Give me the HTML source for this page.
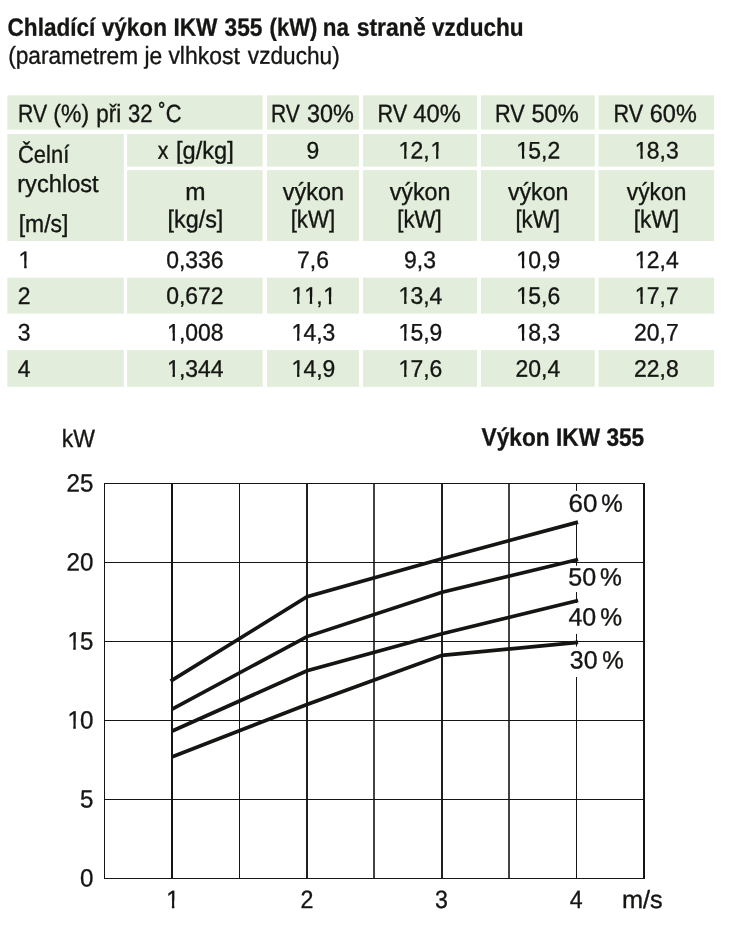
<!DOCTYPE html>
<html lang="cs">
<head>
<meta charset="utf-8">
<title>Chladící výkon IKW 355</title>
<style>
html,body{margin:0;padding:0;background:#fff}
body{width:729px;height:939px;position:relative;overflow:hidden;font-family:"Liberation Sans", sans-serif;color:#151513}
.page{position:absolute;left:0;top:0;width:729px;height:939px;overflow:hidden;background:#fff}
.bg{position:absolute;left:0;top:0}
.w{margin:0;padding:0;font:inherit}
.t{position:absolute;left:0;top:0;margin:0;padding:0;white-space:pre;line-height:1;font-weight:normal;transform-origin:0 0;color:#151513;-webkit-text-stroke:0.35px #151513;text-rendering:geometricPrecision}
.t.b{font-weight:bold;-webkit-text-stroke:0.3px #151513}
.t.n{font-kerning:none}
.t i{font-style:normal;display:inline-block;position:relative;left:.035em;clip-path:polygon(-1em -1em,2em -1em,2em var(--f),0.3478em var(--f),0.3478em 2em,0.2435em 2em,0.2435em var(--f),-1em var(--f))}
</style>
</head>
<body>
<div class="page">
<div class="tbl">
<svg class="bg" width="729" height="400" viewBox="0 0 729 400"><g fill="#e2eedb">
<rect x="7.3" y="95.3" width="255.4" height="34.3"/>
<rect x="267.0" y="95.3" width="91.9" height="34.3"/>
<rect x="363.1" y="95.3" width="113.9" height="34.3"/>
<rect x="481.0" y="95.3" width="113.8" height="34.3"/>
<rect x="598.5" y="95.3" width="115.7" height="34.3"/>
<rect x="7.3" y="134.0" width="116.5" height="107.0"/>
<rect x="127.1" y="134.0" width="135.6" height="32.6"/>
<rect x="127.1" y="170.1" width="135.6" height="70.9"/>
<rect x="267.0" y="134.0" width="91.9" height="32.6"/>
<rect x="267.0" y="170.1" width="91.9" height="70.9"/>
<rect x="363.1" y="134.0" width="113.9" height="32.6"/>
<rect x="363.1" y="170.1" width="113.9" height="70.9"/>
<rect x="481.0" y="134.0" width="113.8" height="32.6"/>
<rect x="481.0" y="170.1" width="113.8" height="70.9"/>
<rect x="598.5" y="134.0" width="115.7" height="32.6"/>
<rect x="598.5" y="170.1" width="115.7" height="70.9"/>
<rect x="7.3" y="277.7" width="116.5" height="36.0"/>
<rect x="7.3" y="350.1" width="116.5" height="36.7"/>
<rect x="127.1" y="277.7" width="135.6" height="36.0"/>
<rect x="127.1" y="350.1" width="135.6" height="36.7"/>
<rect x="267.0" y="277.7" width="91.9" height="36.0"/>
<rect x="267.0" y="350.1" width="91.9" height="36.7"/>
<rect x="363.1" y="277.7" width="113.9" height="36.0"/>
<rect x="363.1" y="350.1" width="113.9" height="36.7"/>
<rect x="481.0" y="277.7" width="113.8" height="36.0"/>
<rect x="481.0" y="350.1" width="113.8" height="36.7"/>
<rect x="598.5" y="277.7" width="115.7" height="36.0"/>
<rect x="598.5" y="350.1" width="115.7" height="36.7"/>
</g></svg>
<h1 class="w"><span class="t b" style="font-size:25px;transform:matrix(0.9025,0.001,0,1,7.56,15.74)">Chladící</span> <span class="t b" style="font-size:25px;transform:matrix(0.9025,0.001,0,1,101.70,15.75)">výkon</span> <span class="t b" style="font-size:25px;transform:matrix(0.9058,0.001,0,1,173.44,15.76)">IKW</span> <span class="t b" style="font-size:25px;transform:matrix(0.9092,0.001,0,1,224.55,15.76)">355</span> <span class="t b" style="font-size:25px;transform:matrix(0.8788,0.001,0,1,269.62,15.76)">(kW)</span> <span class="t b" style="font-size:25px;transform:matrix(0.8964,0.001,0,1,322.86,15.77)">na</span> <span class="t b" style="font-size:25px;transform:matrix(0.9204,0.001,0,1,356.66,15.75)">straně</span> <span class="t b" style="font-size:25px;transform:matrix(0.9040,0.001,0,1,432.00,15.74)">vzduchu</span></h1>
<p class="w"><span class="t" style="font-size:24.5px;transform:matrix(0.9265,0.001,0,1,8.14,44.82)">(parametrem</span> <span class="t" style="font-size:24.5px;transform:matrix(0.9289,0.001,0,1,144.40,44.87)">je</span> <span class="t" style="font-size:24.5px;transform:matrix(0.9364,0.001,0,1,168.40,44.85)">vlhkost</span> <span class="t" style="font-size:24.5px;transform:matrix(0.9240,0.001,0,1,247.85,44.84)">vzduchu)</span></p>
<span class="w"><span class="t" style="font-size:25px;transform:matrix(0.8496,0.001,0,1,18.00,101.97)">RV</span> <span class="t" style="font-size:25px;transform:matrix(0.9194,0.001,0,1,53.37,101.96)">(%)</span> <span class="t" style="font-size:25px;transform:matrix(0.8990,0.001,0,1,96.15,101.97)">při</span> <span class="t" style="font-size:25px;transform:matrix(0.8827,0.001,0,1,127.99,101.97)">32</span> <span class="t" style="font-size:25px;transform:matrix(0.8760,0.001,0,1,158.56,101.97)">˚C</span></span>
<span class="w"><span class="t" style="font-size:25px;transform:matrix(0.8419,0.001,0,1,271.02,101.97)">RV</span> <span class="t" style="font-size:25px;transform:matrix(0.9371,0.001,0,1,307.05,101.96)">30%</span></span>
<span class="w"><span class="t" style="font-size:25px;transform:matrix(0.8651,0.001,0,1,377.47,101.97)">RV</span> <span class="t" style="font-size:25px;transform:matrix(0.9497,0.001,0,1,413.28,101.96)">40%</span></span>
<span class="w"><span class="t" style="font-size:25px;transform:matrix(0.8682,0.001,0,1,494.96,101.97)">RV</span> <span class="t" style="font-size:25px;transform:matrix(0.9474,0.001,0,1,531.39,101.96)">50%</span></span>
<span class="w"><span class="t" style="font-size:25px;transform:matrix(0.8651,0.001,0,1,613.47,101.97)">RV</span> <span class="t" style="font-size:25px;transform:matrix(0.9389,0.001,0,1,649.81,101.96)">60%</span></span>
<span class="t" style="font-size:24.5px;transform:matrix(0.8960,0.001,0,1,18.00,143.81)">Čelní</span>
<span class="t" style="font-size:24.5px;transform:matrix(0.9645,0.001,0,1,17.25,172.99)">rychlost</span>
<span class="t" style="font-size:24.5px;transform:matrix(0.9360,0.001,0,1,18.70,213.01)">[m/s]</span>
<span class="w"><span class="t" style="font-size:24.5px;transform:matrix(0.8694,0.001,0,1,157.65,139.68)">x</span> <span class="t" style="font-size:24.5px;transform:matrix(0.9639,0.001,0,1,175.95,139.65)">[g/kg]</span></span>
<span class="t" style="font-size:24.5px;transform:matrix(0.9943,0.001,0,1,185.31,181.02)">m</span>
<span class="t" style="font-size:24.5px;transform:matrix(0.9523,0.001,0,1,167.52,208.50)">[kg/s]</span>
<span class="t n" style="font-size:23.9px;transform:matrix(0.9600,0.001,0,1,306.57,139.58)">9</span>
<span class="t n" style="--f:11.75px;font-size:23.9px;transform:matrix(0.9600,0.001,0,1,397.72,139.56)"><i>1</i>2,<i>1</i></span>
<span class="t n" style="--f:11.75px;font-size:23.9px;transform:matrix(0.9600,0.001,0,1,515.57,139.56)"><i>1</i>5,2</span>
<span class="t n" style="--f:11.75px;font-size:23.9px;transform:matrix(0.9600,0.001,0,1,634.02,139.56)"><i>1</i>8,3</span>
<span class="t" style="font-size:24.5px;transform:matrix(0.9552,0.001,0,1,282.80,181.00)">výkon</span>
<span class="t" style="font-size:24.5px;transform:matrix(0.9065,0.001,0,1,290.64,208.51)">[kW]</span>
<span class="t" style="font-size:24.5px;transform:matrix(0.9488,0.001,0,1,389.70,181.00)">výkon</span>
<span class="t" style="font-size:24.5px;transform:matrix(0.9087,0.001,0,1,397.24,208.51)">[kW]</span>
<span class="t" style="font-size:24.5px;transform:matrix(0.9472,0.001,0,1,507.90,181.00)">výkon</span>
<span class="t" style="font-size:24.5px;transform:matrix(0.9065,0.001,0,1,515.44,208.51)">[kW]</span>
<span class="t" style="font-size:24.5px;transform:matrix(0.9296,0.001,0,1,626.80,181.00)">výkon</span>
<span class="t" style="font-size:24.5px;transform:matrix(0.9217,0.001,0,1,633.82,208.51)">[kW]</span>
<span class="t n" style="--f:11.75px;font-size:23.9px;transform:matrix(0.9600,0.001,0,1,17.82,248.98)"><i>1</i></span>
<span class="t n" style="font-size:23.9px;transform:matrix(0.9600,0.001,0,1,166.20,248.95)">0,336</span>
<span class="t n" style="font-size:23.9px;transform:matrix(0.9600,0.001,0,1,297.00,248.97)">7,6</span>
<span class="t n" style="font-size:23.9px;transform:matrix(0.9600,0.001,0,1,404.11,248.97)">9,3</span>
<span class="t n" style="--f:11.75px;font-size:23.9px;transform:matrix(0.9600,0.001,0,1,515.57,248.96)"><i>1</i>0,9</span>
<span class="t n" style="--f:11.75px;font-size:23.9px;transform:matrix(0.9600,0.001,0,1,634.02,248.96)"><i>1</i>2,4</span>
<span class="t n" style="font-size:23.9px;transform:matrix(0.9600,0.001,0,1,17.82,284.88)">2</span>
<span class="t n" style="font-size:23.9px;transform:matrix(0.9600,0.001,0,1,166.20,284.85)">0,672</span>
<span class="t n" style="--f:11.75px;font-size:23.9px;transform:matrix(0.9600,0.001,0,1,290.62,284.86)"><i>1</i><i>1</i>,<i>1</i></span>
<span class="t n" style="--f:11.75px;font-size:23.9px;transform:matrix(0.9600,0.001,0,1,397.72,284.86)"><i>1</i>3,4</span>
<span class="t n" style="--f:11.75px;font-size:23.9px;transform:matrix(0.9600,0.001,0,1,515.57,284.86)"><i>1</i>5,6</span>
<span class="t n" style="--f:11.75px;font-size:23.9px;transform:matrix(0.9600,0.001,0,1,634.02,284.86)"><i>1</i>7,7</span>
<span class="t n" style="font-size:23.9px;transform:matrix(0.9600,0.001,0,1,17.82,321.58)">3</span>
<span class="t n" style="--f:11.75px;font-size:23.9px;transform:matrix(0.9600,0.001,0,1,166.20,321.55)"><i>1</i>,008</span>
<span class="t n" style="--f:11.75px;font-size:23.9px;transform:matrix(0.9600,0.001,0,1,290.62,321.56)"><i>1</i>4,3</span>
<span class="t n" style="--f:11.75px;font-size:23.9px;transform:matrix(0.9600,0.001,0,1,397.72,321.56)"><i>1</i>5,9</span>
<span class="t n" style="--f:11.75px;font-size:23.9px;transform:matrix(0.9600,0.001,0,1,515.57,321.56)"><i>1</i>8,3</span>
<span class="t n" style="font-size:23.9px;transform:matrix(0.9600,0.001,0,1,634.03,321.56)">20,7</span>
<span class="t n" style="font-size:23.9px;transform:matrix(0.9600,0.001,0,1,17.82,357.83)">4</span>
<span class="t n" style="--f:11.75px;font-size:23.9px;transform:matrix(0.9600,0.001,0,1,166.20,357.80)"><i>1</i>,344</span>
<span class="t n" style="--f:11.75px;font-size:23.9px;transform:matrix(0.9600,0.001,0,1,290.62,357.81)"><i>1</i>4,9</span>
<span class="t n" style="--f:11.75px;font-size:23.9px;transform:matrix(0.9600,0.001,0,1,397.72,357.81)"><i>1</i>7,6</span>
<span class="t n" style="font-size:23.9px;transform:matrix(0.9600,0.001,0,1,515.58,357.81)">20,4</span>
<span class="t n" style="font-size:23.9px;transform:matrix(0.9600,0.001,0,1,634.03,357.81)">22,8</span>
</div>
<div class="fig">
<svg class="bg" width="729" height="939" viewBox="0 0 729 939">
<g stroke="#151513" fill="none">
<line x1="104.0" y1="483.5" x2="645.0" y2="483.5" stroke-width="1"/>
<line x1="104.0" y1="562.5" x2="645.0" y2="562.5" stroke-width="1"/>
<line x1="104.0" y1="641.5" x2="645.0" y2="641.5" stroke-width="1"/>
<line x1="104.0" y1="720.5" x2="645.0" y2="720.5" stroke-width="1"/>
<line x1="104.0" y1="799.5" x2="645.0" y2="799.5" stroke-width="1"/>
<line x1="104.0" y1="878.5" x2="645.0" y2="878.5" stroke-width="1"/>
<line x1="104.5" y1="483.0" x2="104.5" y2="879.0" stroke-width="1"/>
<line x1="172.0" y1="483.0" x2="172.0" y2="879.0" stroke-width="2"/>
<line x1="239.5" y1="483.0" x2="239.5" y2="879.0" stroke-width="1"/>
<line x1="307.0" y1="483.0" x2="307.0" y2="879.0" stroke-width="1.9"/>
<line x1="374.0" y1="483.0" x2="374.0" y2="879.0" stroke-width="1.6"/>
<line x1="442.0" y1="483.0" x2="442.0" y2="879.0" stroke-width="1.9"/>
<line x1="509.0" y1="483.0" x2="509.0" y2="879.0" stroke-width="1.6"/>
<line x1="644.0" y1="483.0" x2="644.0" y2="879.0" stroke-width="2"/>
<line x1="576.5" y1="483.0" x2="576.5" y2="490.9" stroke-width="1"/>
<line x1="576.5" y1="521.0" x2="576.5" y2="565.7" stroke-width="1"/>
<line x1="576.5" y1="592.0" x2="576.5" y2="603.0" stroke-width="1"/>
<line x1="576.5" y1="633.9" x2="576.5" y2="646.6" stroke-width="1"/>
<line x1="576.5" y1="677.0" x2="576.5" y2="879.0" stroke-width="1"/>
</g>
<g stroke="#151513" fill="none" stroke-width="3.7" stroke-linejoin="miter">
<polyline points="170.6,681.1 307.0,596.8 442.0,558.7 578.0,522.1"/>
<polyline points="171.7,709.3 307.0,636.6 442.0,592.3 578.1,559.5"/>
<polyline points="171.7,731.3 307.0,670.8 442.0,633.8 578.1,600.5"/>
<polyline points="171.7,756.9 307.0,704.6 442.0,655.3 578.1,642.4"/>
</g>
</svg>
<span class="t" style="font-size:25px;transform:matrix(0.9209,0.001,0,1,61.72,426.92)">kW</span>
<span class="t b" style="font-size:25px;transform:matrix(0.9074,0.001,0,1,481.60,425.60)">Výkon IKW 355</span>
<span class="t n" style="font-size:25px;transform:matrix(0.9650,0.001,0,1,66.54,471.57)">25</span>
<span class="t n" style="font-size:25px;transform:matrix(0.9650,0.001,0,1,66.54,550.57)">20</span>
<span class="t n" style="--f:12.42px;font-size:25px;transform:matrix(0.9650,0.001,0,1,66.54,629.57)"><i>1</i>5</span>
<span class="t n" style="--f:12.42px;font-size:25px;transform:matrix(0.9650,0.001,0,1,66.54,708.57)"><i>1</i>0</span>
<span class="t n" style="font-size:25px;transform:matrix(0.9650,0.001,0,1,80.05,787.58)">5</span>
<span class="t n" style="font-size:25px;transform:matrix(0.9650,0.001,0,1,80.05,866.58)">0</span>
<span class="t n" style="--f:12.42px;font-size:25px;transform:matrix(0.9300,0.001,0,1,165.44,888.08)"><i>1</i></span>
<span class="t n" style="font-size:25px;transform:matrix(0.9300,0.001,0,1,300.51,888.08)">2</span>
<span class="t n" style="font-size:25px;transform:matrix(0.9300,0.001,0,1,434.91,888.08)">3</span>
<span class="t n" style="font-size:25px;transform:matrix(0.9300,0.001,0,1,569.81,888.08)">4</span>
<span class="t" style="font-size:25px;transform:matrix(1.0132,0.001,0,1,621.98,888.06)">m/s</span>
<span class="w"><span class="t n" style="font-size:25px;transform:matrix(1.0385,0.001,0,1,568.46,491.67)">60</span> <span class="t n" style="font-size:25px;transform:matrix(0.9687,0.001,0,1,601.17,491.67)">%</span></span>
<span class="w"><span class="t n" style="font-size:25px;transform:matrix(1.0038,0.001,0,1,568.20,565.47)">50</span> <span class="t n" style="font-size:25px;transform:matrix(0.9831,0.001,0,1,600.06,565.47)">%</span></span>
<span class="w"><span class="t n" style="font-size:25px;transform:matrix(1.0000,0.001,0,1,568.45,605.47)">40</span> <span class="t n" style="font-size:25px;transform:matrix(0.9831,0.001,0,1,600.26,605.47)">%</span></span>
<span class="w"><span class="t n" style="font-size:25px;transform:matrix(0.9943,0.001,0,1,569.85,648.57)">30</span> <span class="t n" style="font-size:25px;transform:matrix(0.9687,0.001,0,1,602.17,648.57)">%</span></span>
</div>
</div>
</body>
</html>
